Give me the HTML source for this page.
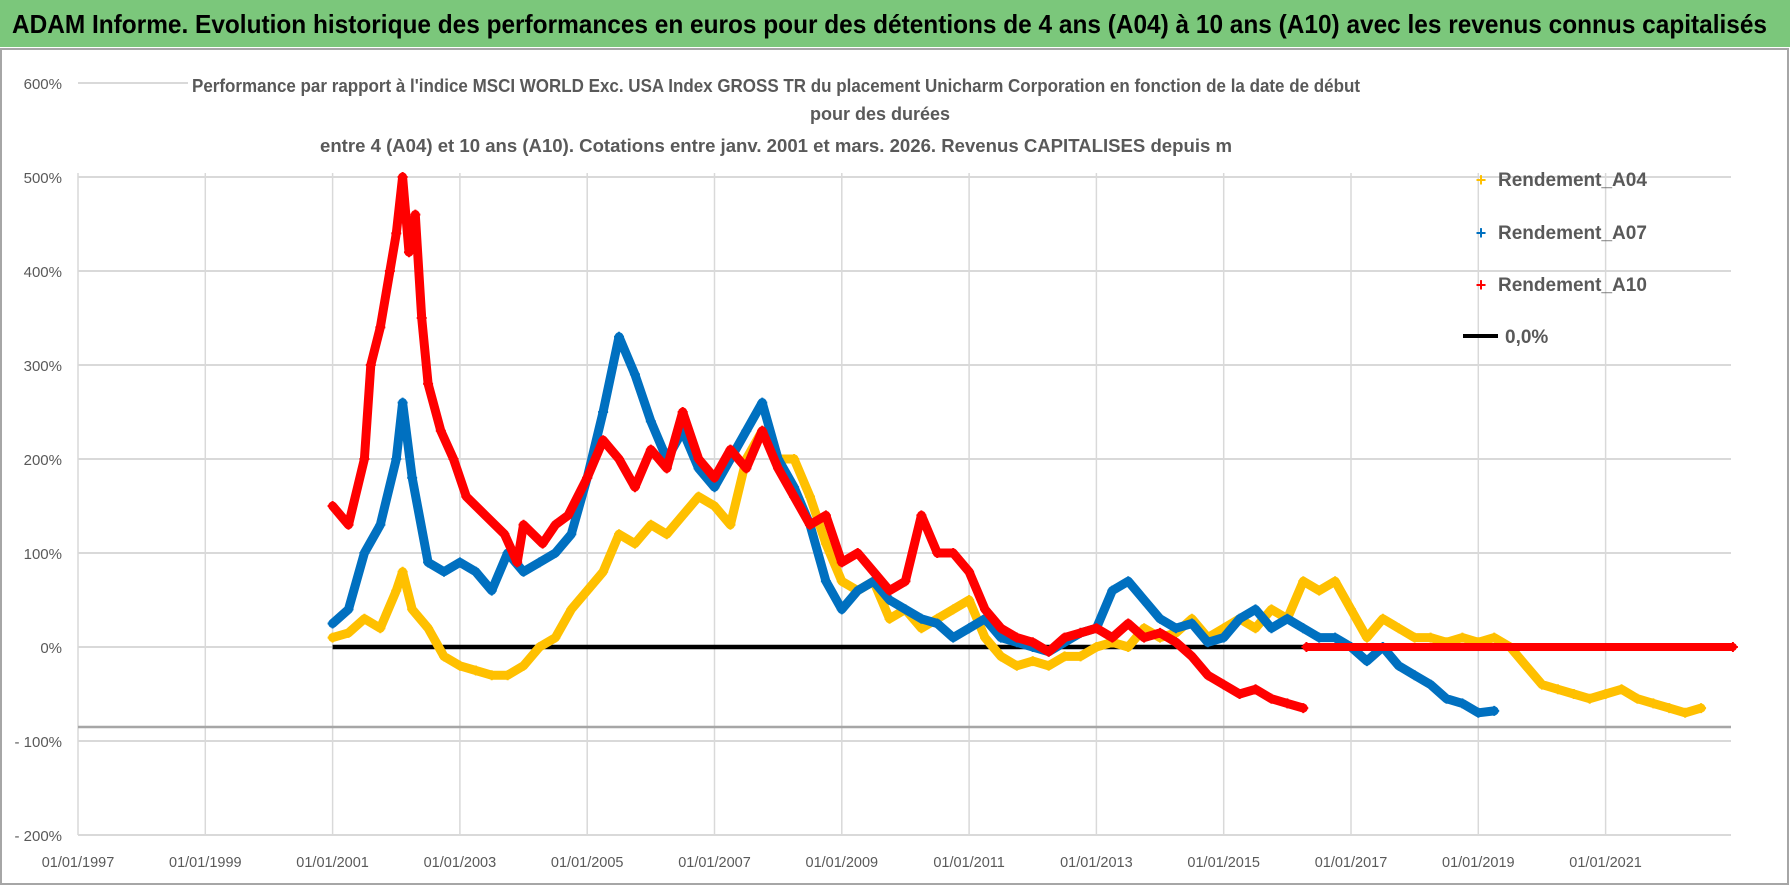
<!DOCTYPE html>
<html><head><meta charset="utf-8"><style>
html,body{margin:0;padding:0;background:#fff;}
svg{display:block;font-family:"Liberation Sans",sans-serif;}
</style></head><body>
<svg id="chart" width="1790" height="886" viewBox="0 0 1790 886">
<rect x="0" y="0" width="1790" height="886" fill="#fff"/>
<rect x="0" y="0" width="1790" height="47" fill="#7bc77b"/>
<text x="12" y="33" font-size="26" font-weight="bold" fill="#000" textLength="1755" lengthAdjust="spacingAndGlyphs">ADAM Informe. Evolution historique des performances en euros pour des détentions de 4 ans (A04) à 10 ans (A10) avec les revenus connus capitalisés</text>
<rect x="1" y="49" width="1787" height="835" fill="none" stroke="#a6a6a6" stroke-width="2"/>
<g id="grid"></g>
<g id="ylabels"></g>
<g id="xlabels"></g>
<g id="series"></g>
<g font-size="18" font-weight="bold" fill="#595959" text-anchor="middle">
<text x="776" y="92" textLength="1168" lengthAdjust="spacingAndGlyphs">Performance par rapport à l'indice MSCI WORLD Exc. USA Index GROSS TR  du placement Unicharm Corporation en fonction de la date de début</text>
<text x="880" y="120">pour des durées</text>
<text x="776" y="152" textLength="912" lengthAdjust="spacingAndGlyphs">entre 4 (A04) et 10 ans (A10). Cotations entre janv. 2001 et mars. 2026. Revenus CAPITALISES depuis m</text>
</g>
<g font-size="19" font-weight="bold" fill="#595959">
<text x="1481" y="186" fill="#ffc000" font-size="18" text-anchor="middle">+</text>
<text x="1498" y="186">Rendement_A04</text>
<text x="1481" y="239" fill="#0070c0" font-size="18" text-anchor="middle">+</text>
<text x="1498" y="239">Rendement_A07</text>
<text x="1481" y="291" fill="#ff0000" font-size="18" text-anchor="middle">+</text>
<text x="1498" y="291">Rendement_A10</text>
<line x1="1463" y1="336" x2="1498" y2="336" stroke="#000" stroke-width="4"/>
<text x="1505" y="343">0,0%</text>
</g>
</svg>
<script>
const yTicks=[600,500,400,300,200,100,0,-100,-200];
const yTickLabels=["600%","500%","400%","300%","200%","100%","0%","- 100%","- 200%"];
const xTickYears=[1997,1999,2001,2003,2005,2007,2009,2011,2013,2015,2017,2019,2021];
const xTickLabels=["01/01/1997","01/01/1999","01/01/2001","01/01/2003","01/01/2005","01/01/2007","01/01/2009","01/01/2011","01/01/2013","01/01/2015","01/01/2017","01/01/2019","01/01/2021"];
const zeroStart=2001.0, zeroEnd=2023.0;
const a10Years=[2001,2001.25,2001.5,2001.6,2001.75,2001.9,2002,2002.1,2002.2,2002.3,2002.4,2002.5,2002.7,2002.9,2003.1,2003.4,2003.7,2003.9,2004,2004.3,2004.5,2004.7,2005,2005.25,2005.5,2005.75,2006,2006.25,2006.5,2006.75,2007,2007.25,2007.5,2007.75,2008,2008.25,2008.5,2008.75,2009,2009.25,2009.5,2009.75,2010,2010.25,2010.5,2010.75,2011,2011.25,2011.5,2011.75,2012,2012.25,2012.5,2012.75,2013,2013.25,2013.5,2013.75,2014,2014.25,2014.5,2014.75,2015,2015.25,2015.5,2015.75,2016,2016.25];
const a10Values=[150,130,200,300,340,400,440,500,420,460,350,280,230,200,160,140,120,90,130,110,130,140,180,220,200,170,210,190,250,200,180,210,190,230,190,160,130,140,90,100,80,60,70,140,100,100,80,40,20,10,5,-5,10,15,20,10,25,10,15,5,-10,-30,-40,-50,-45,-55,-60,-65];
const a10FlatYears=[2016.3,2023.0];
const a10FlatValues=[0,0];
const a07Years=[2001,2001.25,2001.5,2001.75,2002,2002.1,2002.25,2002.5,2002.75,2003,2003.25,2003.5,2003.75,2004,2004.25,2004.5,2004.75,2005,2005.25,2005.5,2005.75,2006,2006.25,2006.5,2006.75,2007,2007.25,2007.5,2007.75,2008,2008.25,2008.5,2008.75,2009,2009.25,2009.5,2009.75,2010,2010.25,2010.5,2010.75,2011,2011.25,2011.5,2011.75,2012,2012.25,2012.5,2012.75,2013,2013.25,2013.5,2013.75,2014,2014.25,2014.5,2014.75,2015,2015.25,2015.5,2015.75,2016,2016.25,2016.5,2016.75,2017,2017.25,2017.5,2017.75,2018,2018.25,2018.5,2018.75,2019,2019.25];
const a07Values=[25,40,100,130,200,260,180,90,80,90,80,60,100,80,90,100,120,180,250,330,290,240,200,230,190,170,200,230,260,200,170,130,70,40,60,70,50,40,30,25,10,20,30,10,5,0,-5,5,15,20,60,70,50,30,20,25,5,10,30,40,20,30,20,10,10,0,-15,0,-20,-30,-40,-55,-60,-70,-68];
const a04Years=[2001,2001.25,2001.5,2001.75,2002,2002.1,2002.25,2002.5,2002.75,2003,2003.25,2003.5,2003.75,2004,2004.25,2004.5,2004.75,2005,2005.25,2005.5,2005.75,2006,2006.25,2006.5,2006.75,2007,2007.25,2007.5,2007.75,2008,2008.25,2008.5,2008.75,2009,2009.25,2009.5,2009.75,2010,2010.25,2010.5,2010.75,2011,2011.25,2011.5,2011.75,2012,2012.25,2012.5,2012.75,2013,2013.25,2013.5,2013.75,2014,2014.25,2014.5,2014.75,2015,2015.25,2015.5,2015.75,2016,2016.25,2016.5,2016.75,2017,2017.25,2017.5,2017.75,2018,2018.25,2018.5,2018.75,2019,2019.25,2019.5,2019.75,2020,2020.25,2020.5,2020.75,2021,2021.25,2021.5,2021.75,2022,2022.25,2022.5];
const a04Values=[10,15,30,20,60,80,40,20,-10,-20,-25,-30,-30,-20,0,10,40,60,80,120,110,130,120,140,160,150,130,200,230,200,200,160,110,70,60,70,30,40,20,30,40,50,10,-10,-20,-15,-20,-10,-10,0,5,0,20,10,15,30,10,20,30,20,40,30,70,60,70,40,10,30,20,10,10,5,10,5,10,0,-20,-40,-45,-50,-55,-50,-45,-55,-60,-65,-70,-65];

const NS="http://www.w3.org/2000/svg";
const PL=78, PR=1731;
function xPos(yr){return PL+(yr-1997)*63.65;}
function yPos(v){return 647-v*0.94;}
function mk(tag,attrs,parent){const e=document.createElementNS(NS,tag);for(const k in attrs)e.setAttribute(k,attrs[k]);parent.appendChild(e);return e;}
const grid=document.getElementById('grid'),yl=document.getElementById('ylabels'),xl=document.getElementById('xlabels'),ser=document.getElementById('series');
xTickYears.forEach((yr,i)=>{
  const l=mk('line',{x1:xPos(yr),x2:xPos(yr),y1:yPos(500)-4,y2:yPos(-200),stroke:'#d9d9d9','stroke-width':1.5},grid);
  
  
  const t=mk('text',{x:xPos(yr),y:867,'font-size':14.5,fill:'#595959','text-anchor':'middle'},xl);
  t.textContent=xTickLabels[i];
  
  
});
yTicks.forEach((v,i)=>{
  if(v<600){const l=mk('line',{x1:PL,x2:PR,y1:yPos(v),y2:yPos(v),stroke:'#d9d9d9','stroke-width':2},grid);
  
  }
  const t=mk('text',{x:62,y:yPos(v)+6,'font-size':15,fill:'#595959','text-anchor':'end'},yl);
  t.textContent=yTickLabels[i];
  
  
});
const topGrid=mk('line',{x1:PL,x2:188,y1:yPos(600),y2:yPos(600),stroke:'#d9d9d9','stroke-width':2},grid);


const axLine=mk('line',{x1:PL,x2:PR,y1:727,y2:727,stroke:'#a6a6a6','stroke-width':2.5},grid);


const zLine=mk('line',{x1:xPos(zeroStart),x2:xPos(zeroEnd),y1:yPos(0),y2:yPos(0),stroke:'#000','stroke-width':4.5},ser);


function drawSeries(years,vals,color,name,w){
  const g=mk('g',{},ser);
  
  
  const pts=years.map((y,i)=>xPos(y).toFixed(1)+','+yPos(vals[i]).toFixed(1)).join(' ');
  const p=mk('polyline',{points:pts,fill:'none',stroke:color,'stroke-width':w,'stroke-linejoin':'round','stroke-linecap':'round'},g);
  
  
  years.forEach((y,i)=>{
    const cx=xPos(y),cy=yPos(vals[i]);
    const m=mk('path',{d:`M${cx-5},${cy}h10M${cx},${cy-5}v10`,stroke:color,'stroke-width':2},g);
    
    
  });
}
drawSeries(a04Years,a04Values,'#ffc000','series-a04',9);
drawSeries(a07Years,a07Values,'#0070c0','series-a07',9);
drawSeries(a10Years,a10Values,'#ff0000','series-a10',9);
drawSeries(a10FlatYears,a10FlatValues,'#ff0000','series-a10-flat',8);
</script>
</body></html>
